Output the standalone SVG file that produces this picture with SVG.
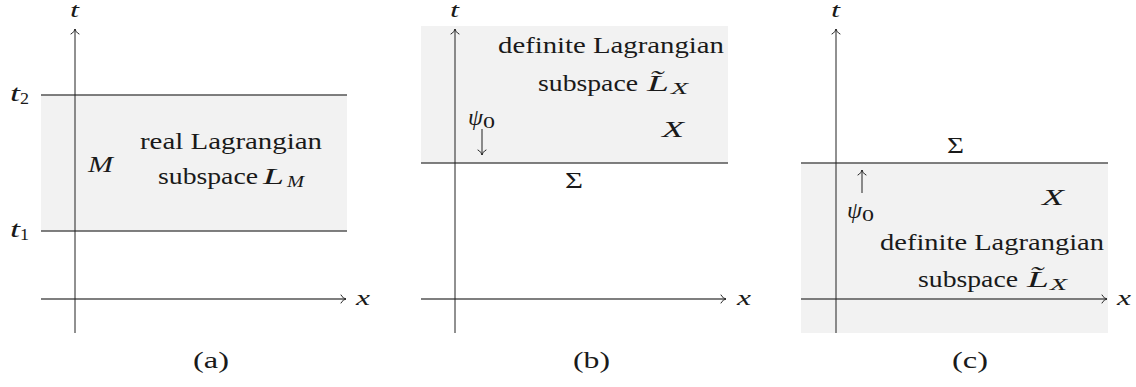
<svg xmlns="http://www.w3.org/2000/svg" width="1136" height="387" viewBox="0 0 1136 387">
<style>
.bg{fill:#f2f2f2;stroke:none}
.ln{stroke:#555;stroke-width:1.3;fill:none}
.ax{stroke:#222;stroke-width:1;fill:none}
.axx{stroke:#555;stroke-width:1.3;fill:none}
.tx{font-family:'Liberation Serif','Times New Roman',serif;fill:#1a1a1a;font-size:24px}
.it{font-style:italic}
.sub{font-size:16px}
.sm{font-size:20px}
</style>
<defs>
<marker id="to" markerUnits="userSpaceOnUse" markerWidth="12" markerHeight="12" viewBox="-7 -6 9 12" refX="0" refY="0" orient="auto">
<path d="M -5 -4 C -4 -1.6 -1.2 -0.4 0 0 C -1.2 0.4 -4 1.6 -5 4" stroke="#222" stroke-width="1" fill="none" stroke-linecap="round"/>
</marker>
</defs>
<rect width="1136" height="387" fill="#fff"/>

<g id="panel-a">
<rect class="bg" x="41" y="95" width="306" height="136"/>
<line class="ln" x1="41" y1="95" x2="347" y2="95"/>
<line class="ln" x1="41" y1="231" x2="347" y2="231"/>
<g id="axes-a">
<line class="axx" x1="41" y1="299" x2="346" y2="299" marker-end="url(#to)"/>
<line class="ax" x1="75" y1="333" x2="75" y2="29" marker-end="url(#to)"/>
</g>
<g class="tx">
<text class="it sm" x="70" y="17" textLength="9" lengthAdjust="spacingAndGlyphs">t</text>
<text class="it sm" x="356" y="305" textLength="14" lengthAdjust="spacingAndGlyphs">x</text>
<text class="it" x="10" y="101" textLength="10" lengthAdjust="spacingAndGlyphs">t</text>
<text class="sub" x="20" y="104" textLength="9" lengthAdjust="spacingAndGlyphs">2</text>
<text class="it" x="10" y="237" textLength="10" lengthAdjust="spacingAndGlyphs">t</text>
<text class="sub" x="20" y="240" textLength="9" lengthAdjust="spacingAndGlyphs">1</text>
<text class="it" x="88" y="172" textLength="25" lengthAdjust="spacingAndGlyphs">M</text>
<text x="140" y="149" textLength="182" lengthAdjust="spacingAndGlyphs">real Lagrangian</text>
<text x="158" y="184" textLength="100" lengthAdjust="spacingAndGlyphs">subspace</text>
<text class="it" x="263" y="184" textLength="21" lengthAdjust="spacingAndGlyphs">L</text>
<text class="it sub" x="287" y="187" textLength="17" lengthAdjust="spacingAndGlyphs">M</text>
<text x="193" y="368" textLength="36" lengthAdjust="spacingAndGlyphs">(a)</text>
</g>
</g>

<g id="panel-b">
<rect class="bg" x="421" y="26" width="307" height="137"/>
<line class="ln" x1="421" y1="163" x2="728" y2="163"/>
<g id="axes-b">
<line class="axx" x1="421" y1="299" x2="726" y2="299" marker-end="url(#to)"/>
<line class="ax" x1="455" y1="333" x2="455" y2="29" marker-end="url(#to)"/>
</g>
<g class="tx">
<text class="it sm" x="450" y="17" textLength="9" lengthAdjust="spacingAndGlyphs">t</text>
<text class="it sm" x="737" y="305" textLength="14" lengthAdjust="spacingAndGlyphs">x</text>
<text x="498" y="53" textLength="226" lengthAdjust="spacingAndGlyphs">definite Lagrangian</text>
<text x="538" y="91" textLength="100" lengthAdjust="spacingAndGlyphs">subspace</text>
<text class="it" x="647" y="91" textLength="22" lengthAdjust="spacingAndGlyphs">L̃</text>
<text class="it sub" x="671" y="94" textLength="17" lengthAdjust="spacingAndGlyphs">X</text>
<text class="it" x="468" y="125" textLength="15" lengthAdjust="spacingAndGlyphs">ψ</text>
<text class="sub" x="483" y="128" textLength="12" lengthAdjust="spacingAndGlyphs">0</text>
<text class="it" x="662" y="137" textLength="22" lengthAdjust="spacingAndGlyphs">X</text>
<text x="565" y="188" textLength="18" lengthAdjust="spacingAndGlyphs">Σ</text>
<text x="573" y="368" textLength="37" lengthAdjust="spacingAndGlyphs">(b)</text>
</g>
</g>

<g id="panel-c">
<rect class="bg" x="801" y="163" width="307" height="170"/>
<line class="ln" x1="801" y1="163" x2="1108" y2="163"/>
<g id="axes-c">
<line class="axx" x1="801" y1="299" x2="1107" y2="299" marker-end="url(#to)"/>
<line class="ax" x1="836" y1="333" x2="836" y2="29" marker-end="url(#to)"/>
</g>
<g class="tx">
<text class="it sm" x="831" y="17" textLength="9" lengthAdjust="spacingAndGlyphs">t</text>
<text class="it sm" x="1117" y="305" textLength="14" lengthAdjust="spacingAndGlyphs">x</text>
<text x="947" y="153" textLength="17" lengthAdjust="spacingAndGlyphs">Σ</text>
<text class="it" x="847" y="218" textLength="15" lengthAdjust="spacingAndGlyphs">ψ</text>
<text class="sub" x="862" y="221" textLength="12" lengthAdjust="spacingAndGlyphs">0</text>
<text class="it" x="1042" y="205" textLength="22" lengthAdjust="spacingAndGlyphs">X</text>
<text x="880" y="250" textLength="224" lengthAdjust="spacingAndGlyphs">definite Lagrangian</text>
<text x="918" y="287" textLength="100" lengthAdjust="spacingAndGlyphs">subspace</text>
<text class="it" x="1027" y="287" textLength="22" lengthAdjust="spacingAndGlyphs">L̃</text>
<text class="it sub" x="1050" y="290" textLength="17" lengthAdjust="spacingAndGlyphs">X</text>
<text x="952" y="368" textLength="36" lengthAdjust="spacingAndGlyphs">(c)</text>
</g>
</g>

<g id="connectors">
<line class="ax" x1="482" y1="129" x2="482" y2="155" marker-end="url(#to)"/>
<line class="ax" x1="862" y1="193" x2="862" y2="170" marker-end="url(#to)"/>
</g>
</svg>
